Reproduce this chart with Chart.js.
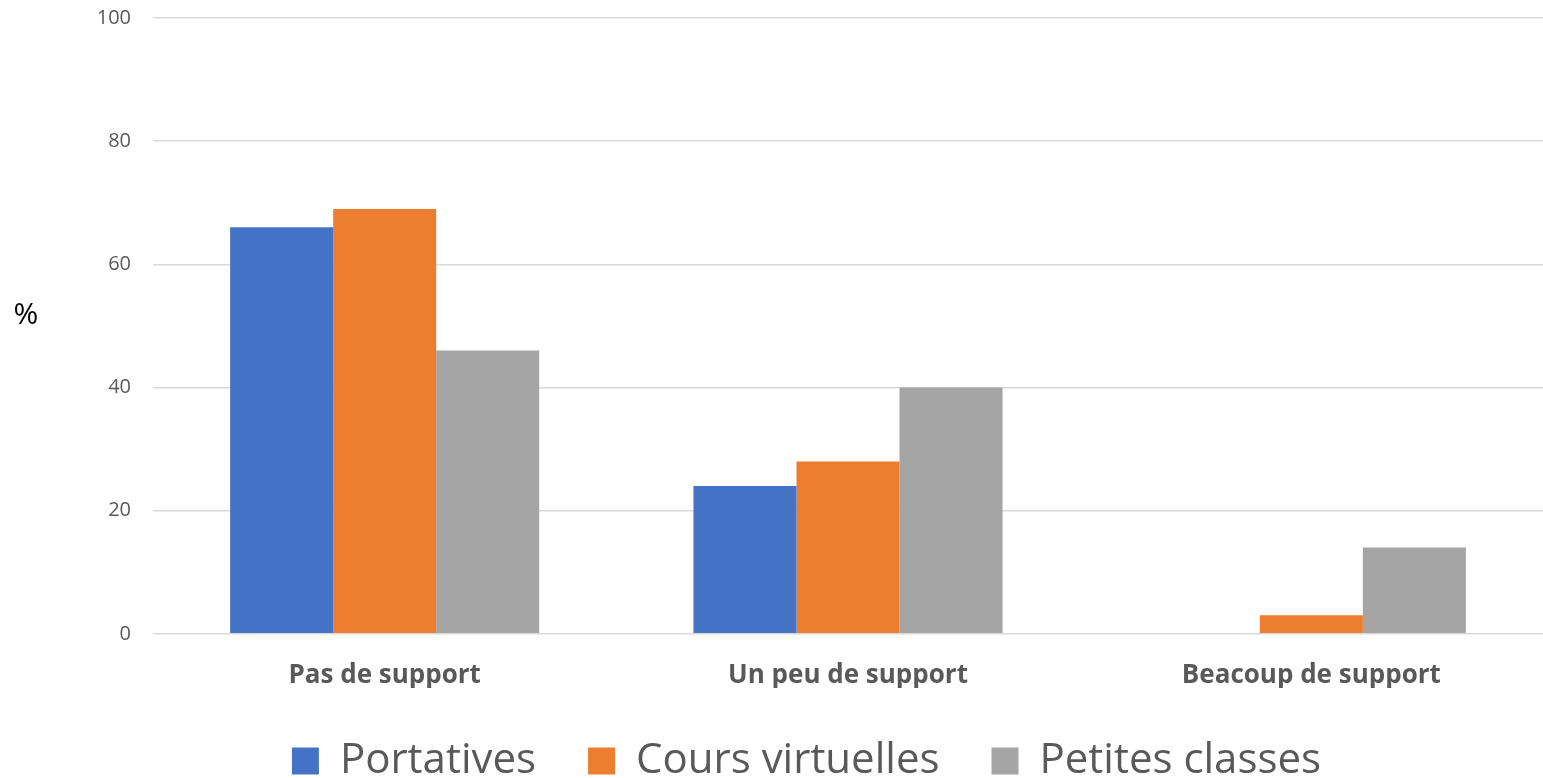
<!DOCTYPE html>
<html>
<head>
<meta charset="utf-8">
<script src="https://cdn.jsdelivr.net/npm/chart.js@4"></script>
<style>
  html, body { margin: 0; padding: 0; background: #fff; overflow: hidden; }
  #wrap { position: relative; width: 1543px; height: 778px; }
</style>
</head>
<body>
<div id="wrap"><canvas id="myChart"></canvas></div>
<script>
const categories = ['Pas de support', 'Un peu de support', 'Beacoup de support'];
const portatives = [66, 24, 0];
const coursVirtuelles = [69, 28, 3];
const petitesClasses = [46, 40, 14];
const yTicks = [0, 20, 40, 60, 80, 100];

const ctx = document.getElementById('myChart');

// axis title drawn flat, left of the plot
const yTitle = {
  id: 'yTitle',
  afterDraw(chart) {
    const c = chart.ctx;
    const area = chart.chartArea;
    c.save();
    c.font = '30px "Open Sans"';
    c.fillStyle = '#000';
    c.textAlign = 'center';
    c.textBaseline = 'middle';
    c.fillText('%', 26, (area.top + area.bottom) / 2 - 10);
    c.restore();
  }
};

// legend sits a bit right of centre in the original
const legendShift = {
  id: 'legendShift',
  afterLayout(chart) {
    chart.legend.left += 35;
    chart.legend.right += 35;
  }
};

new Chart(ctx, {
  type: 'bar',
  data: {
    labels: categories,
    datasets: [
      { label: 'Portatives', data: portatives, backgroundColor: '#4472C4' },
      { label: 'Cours virtuelles', data: coursVirtuelles, backgroundColor: '#ED7D31' },
      { label: 'Petites classes', data: petitesClasses, backgroundColor: '#A5A5A5' }
    ]
  },
  options: {
    responsive: true,
    maintainAspectRatio: false,
    animation: false,
    layout: { padding: { top: 0, right: 0, left: 0, bottom: -14 } },
    datasets: { bar: { categoryPercentage: 0.667, barPercentage: 1 } },
    scales: {
      x: {
        afterFit(scale) { scale.height -= 21; },
        grid: { display: false },
        border: { display: false },
        ticks: {
          padding: 18,
          color: '#595959',
          font: { family: 'Open Sans', size: 26, weight: 'bold' }
        }
      },
      y: {
        min: 0,
        max: 100,
        afterFit(scale) {
          scale.width = 153;
          scale.paddingTop = 18;
          scale.paddingBottom = 0;
        },
        afterBuildTicks(scale) { scale.ticks = yTicks.map(v => ({ value: v })); },
        grid: { color: '#D9D9D9', lineWidth: 1.5, drawTicks: false },
        border: { display: false },
        ticks: {
          padding: 22,
          color: '#595959',
          font: { family: 'Open Sans', size: 20 }
        }
      }
    },
    plugins: {
      tooltip: { enabled: false },
      legend: {
        position: 'bottom',
        labels: {
          boxWidth: 27,
          boxHeight: 27,
          padding: 52,
          color: '#595959',
          font: { family: 'Open Sans', size: 42 }
        }
      }
    }
  },
  plugins: [yTitle, legendShift]
});
</script>
</body>
</html>
